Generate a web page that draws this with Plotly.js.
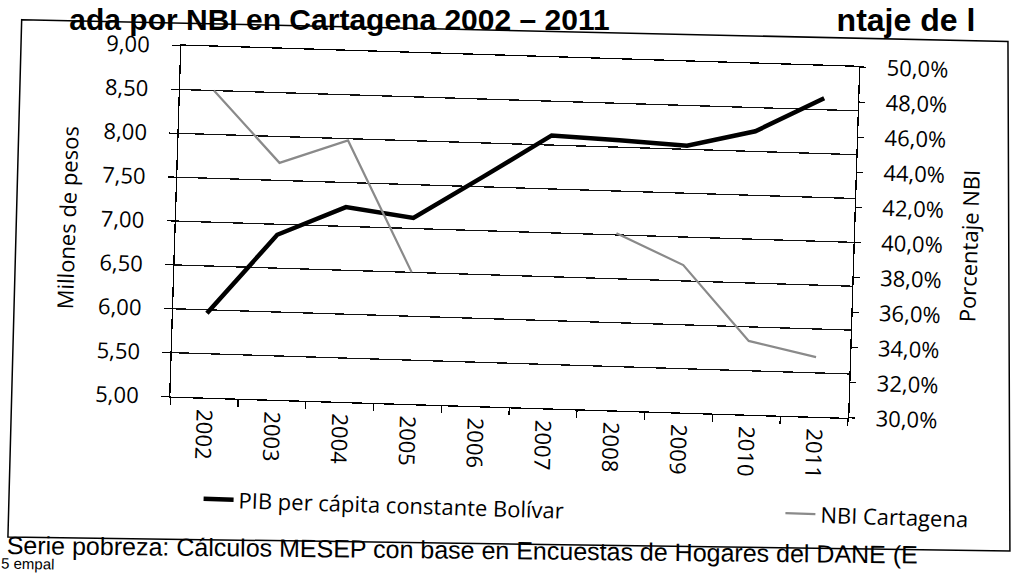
<!DOCTYPE html>
<html>
<head>
<meta charset="utf-8">
<script src="https://cdn.plot.ly/plotly-3.0.1.min.js"></script>
<style>
  html, body { margin:0; padding:0; width:1014px; height:574px; overflow:hidden; background:#fff; }
  #chart { position:absolute; left:-23px; top:-33px; width:1060px; height:640px; transform:rotate(1.8deg); transform-origin:50% 50%; }
</style>
</head>
<body>
<div id="chart"></div>
<script>
// Data
var years = ["2002","2003","2004","2005","2006","2007","2008","2009","2010","2011"];
var pibPerCapita = [5.96, 6.88, 7.22, 7.12, 7.61, 8.11, 8.08, 8.04, 8.23, 8.63]; // Millones de pesos
var nbiCartagena = [47.5, 43.5, 44.9, 37.5, null, null, 40.1, 38.4, 34.2, 33.4]; // Porcentaje NBI
var pibName = "PIB per cápita constante Bolívar";
var nbiName = "NBI Cartagena";
var yTitle = "Millones de pesos";
var y2Title = "Porcentaje NBI";
var titleText = "ada por NBI en Cartagena 2002 – 2011";
var titleRight = "ntaje de l";
var sourceText = "Serie pobreza: Cálculos MESEP con base en Encuestas de Hogares del DANE (E";
var sourceText2 = "5 empal";

var chartFont = "Open Sans, sans-serif";
var noteFont = "Liberation Sans, Arial, sans-serif";

var traces = [
  {
    x: years, y: pibPerCapita, name: pibName, type: "scatter", mode: "lines",
    line: {color: "#000000", width: 4.5}, yaxis: "y", legend: "legend", hoverinfo: "skip"
  },
  {
    x: years, y: nbiCartagena, name: nbiName, type: "scatter", mode: "lines",
    line: {color: "#8a8a8a", width: 2.2}, yaxis: "y2", legend: "legend2",
    connectgaps: false, hoverinfo: "skip"
  }
];

var legendFont = {family: chartFont, size: 22, color: "#000"};

var layout = {
  width: 1060, height: 640,
  margin: {l: 197, r: 185, t: 89, b: 200, pad: 0},
  paper_bgcolor: "#ffffff", plot_bgcolor: "#ffffff",
  separators: ",.",
  font: {family: chartFont, size: 22, color: "#000"},
  showlegend: true,
  legend: {
    orientation: "h", x: 0.0463, y: -0.229, xanchor: "left", yanchor: "top",
    font: legendFont, bgcolor: "rgba(0,0,0,0)"
  },
  legend2: {
    orientation: "h", x: 0.9047, y: -0.218, xanchor: "left", yanchor: "top",
    font: legendFont, bgcolor: "rgba(0,0,0,0)"
  },
  xaxis: {
    type: "category", range: [-0.5, 9.5], showgrid: false, zeroline: false,
    showline: true, linecolor: "#000", linewidth: 1.3, mirror: true,
    ticks: "outside", tickson: "boundaries", ticklen: 7, tickcolor: "#000", tickwidth: 1.2,
    tickangle: 90, ticklabelstandoff: 6,
    tickfont: {family: chartFont, size: 22, color: "#000"}
  },
  yaxis: {
    range: [5, 9], dtick: 0.5, tick0: 5, tickformat: ".2f",
    showgrid: true, gridcolor: "#111", gridwidth: 1.3, zeroline: false,
    showline: true, linecolor: "#000", linewidth: 1.3,
    ticks: "outside", ticklen: 8, tickcolor: "#000", tickwidth: 1.2, ticklabelstandoff: 18,
    tickfont: {family: chartFont, size: 22, color: "#000"},
    title: {text: yTitle, standoff: 18, font: {family: chartFont, size: 22, color: "#000"}}
  },
  yaxis2: {
    range: [30, 50], dtick: 2, tick0: 30, tickformat: ".1f", ticksuffix: "%",
    overlaying: "y", side: "right", showgrid: false, zeroline: false,
    showline: true, linecolor: "#000", linewidth: 1.3,
    ticks: "outside", ticklen: 6, tickcolor: "#000", tickwidth: 1.2, ticklabelstandoff: 16,
    tickfont: {family: chartFont, size: 22, color: "#000"},
    title: {text: y2Title, standoff: 20, font: {family: chartFont, size: 22, color: "#000"}}
  },
  shapes: [
    {type: "path", xref: "paper", yref: "paper",
     path: "M-0.2367,1.0598 L1.2183,1.0855 L1.2448,-0.3647 L-0.2330,-0.4145 Z",
     line: {color: "#000", width: 1.5}, fillcolor: "rgba(0,0,0,0)", layer: "below"}
  ],
  annotations: [
    {text: "<b>" + titleText + "</b>", xref: "paper", yref: "paper", x: 0.2311, y: 1.090,
     xanchor: "center", yanchor: "middle", showarrow: false, textangle: -1.8,
     font: {family: noteFont, size: 30, color: "#000"}},
    {text: "<b>" + titleRight + "</b>", xref: "paper", yref: "paper", x: 1.0677, y: 1.138,
     xanchor: "center", yanchor: "middle", showarrow: false, textangle: -1.8,
     font: {family: noteFont, size: 32, color: "#000"}},
    {text: sourceText, xref: "paper", yref: "paper", x: 0.4371, y: -0.4108,
     xanchor: "center", yanchor: "middle", showarrow: false, textangle: -1.2,
     font: {family: noteFont, size: 25, color: "#000"}},
    {text: sourceText2, xref: "paper", yref: "paper", x: -0.2021, y: -0.490,
     xanchor: "center", yanchor: "middle", showarrow: false, textangle: -0.7,
     font: {family: noteFont, size: 15, color: "#000"}}
  ]
};

Plotly.newPlot("chart", traces, layout, {displayModeBar: false, staticPlot: true});
</script>
</body>
</html>
